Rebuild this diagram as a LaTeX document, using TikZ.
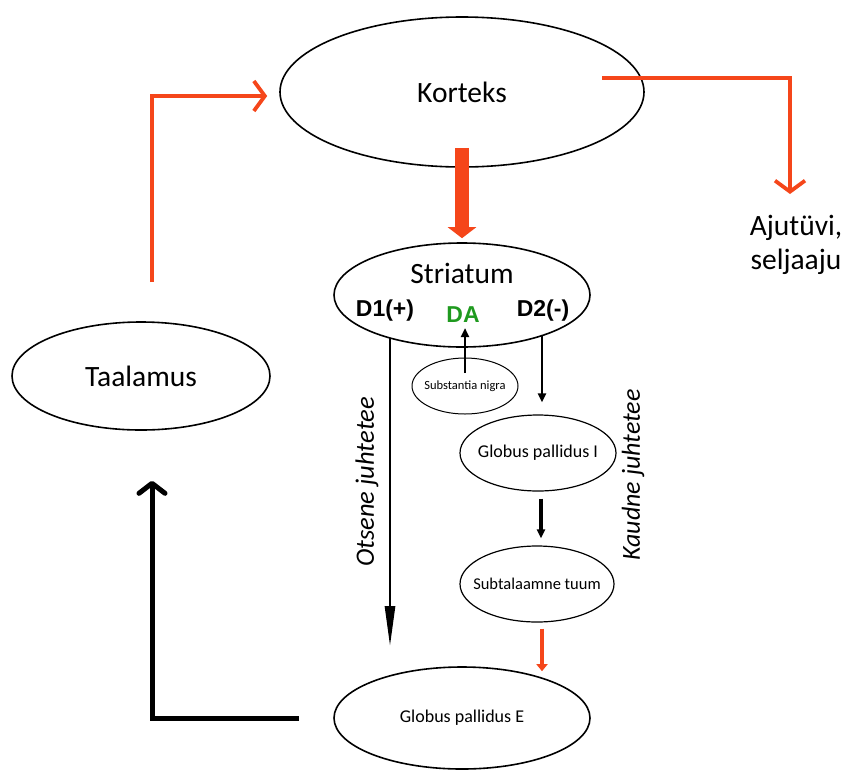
\documentclass[tikz,border=0pt]{standalone}
\usepackage{fontspec}
\setmainfont{Carlito}
\setsansfont{Liberation Sans}
\usetikzlibrary{shapes.geometric,arrows.meta,calc}
\definecolor{redor}{HTML}{F5461A}
\definecolor{dagreen}{HTML}{1F9A1F}
\begin{document}
\begin{tikzpicture}[x=1pt,y=-1pt,
  ell/.style={draw=black,ellipse,line width=1.6pt,inner sep=0pt},
  bigtxt/.style={font=\fontsize{29.5}{32}\selectfont},
  boldtxt/.style={font=\sffamily\bfseries\fontsize{23}{26}\selectfont},
  pathtxt/.style={font=\itshape\fontsize{26.5}{28}\selectfont,rotate=90},
  redconn/.style={draw=redor,line width=3.8pt,-{Straight Barb[length=11pt,width=30pt,line width=3.8pt]}},
  blkconn/.style={draw=black,line width=2.6pt,-{Triangle[length=9pt,width=8pt]}}
]
\useasboundingbox (0,0) rectangle (843,769);

% ellipses
\node[ell,minimum width=364pt,minimum height=150pt,
      label={[font=\fontsize{29.5}{32}\selectfont]center:Korteks}] (kort) at (462,92) {};
\node[ell,minimum width=256pt,minimum height=104pt] (str) at (462,295) {};
\node[ell,minimum width=258pt,minimum height=108pt,
      label={[font=\fontsize{29.5}{32}\selectfont]center:Taalamus}] (taal) at (141,376) {};
\node[ell,minimum width=106pt,minimum height=56pt,line width=1pt,
      label={[font=\fontsize{12.5}{14}\selectfont]center:Substantia nigra}] (sn) at (465,386) {};
\node[ell,minimum width=156pt,minimum height=76pt,line width=1.2pt,
      label={[font=\fontsize{18}{20}\selectfont]center:Globus pallidus I}] (gpi) at (538,453) {};
\node[ell,minimum width=154pt,minimum height=76pt,line width=1.2pt,
      label={[font=\fontsize{16.5}{19}\selectfont]center:Subtalaamne tuum}] (stn) at (537,584) {};
\node[ell,minimum width=256pt,minimum height=102pt,line width=1.6pt,
      label={[font=\fontsize{18}{20}\selectfont]center:Globus pallidus E}] (gpe) at (462,718) {};

% texts inside striatum
\node[bigtxt] (strtxt) at (462,273) {Striatum};
\node[boldtxt] (d1) at (385,311) {D1(+)};
\node[boldtxt,text=dagreen] (da) at (463,315) {DA};
\node[boldtxt] (d2) at (543,311) {D2(-)};

% side labels
\node[pathtxt] (otsene) at (367,482) {Otsene juhtetee};
\node[pathtxt,font=\itshape\fontsize{26}{28}\selectfont] (kaudne) at (633,475) {Kaudne juhtetee};
\node[bigtxt,align=center] (aju) at (796,245) {Ajutüvi,\\[2pt]seljaaju};

% coordinates
\coordinate (kb) at ($(kort.south)+(0,-20)$);
\coordinate (st) at ($(str.north)+(0,-4)$);
\coordinate (d1s) at ($(str.center)+(-72,43)$);
\coordinate (d1e) at ($(gpe.north)+(-72,-20)$);
\coordinate (d2s) at ($(str.center)+(80,40)$);
\coordinate (d2e) at ($(gpi.north)+(4,-12)$);
\coordinate (sns) at ($(sn.center)+(0,-13)$);
\coordinate (dae) at (465,328);
\coordinate (ts) at ($(taal.north)+(11,-39)$);
\coordinate (kw) at ($(kort.west)+(-12,4)$);
\coordinate (ks) at ($(kort.center)+(140,-14)$);
\coordinate (ae) at (790,194);
\coordinate (gpw) at ($(gpe.west)+(-34,0)$);
\coordinate (te) at ($(taal.south)+(11,50)$);

% Korteks -> Striatum block arrow
\draw[draw=redor,line width=14pt,-{Triangle[length=11pt,width=28pt]}] (kb) -- (st);

% Taalamus -> Korteks
\draw[redconn] (ts) |- (kw);
% Korteks -> Ajutuvi
\draw[redconn] (ks) -| (ae);

% direct pathway
\draw[draw=black,line width=2.6pt,-{Triangle[length=40pt,width=10pt]}] (d1s) -- (d1e);
% SN -> DA
\draw[blkconn,line width=2.6pt] (sns) -- (dae);
% D2 -> GPi
\draw[blkconn,line width=2.4pt] (d2s) -- (d2e);
% GPi -> STN
\draw[blkconn,line width=3.2pt] ($(gpi.south)+(3,7)$) -- ($(stn.north)+(4,-7)$);
% STN -> GPE
\draw[draw=redor,line width=3.6pt,-{Triangle[length=7pt,width=11pt]}] ($(stn.south)+(5,6)$) -- ($(gpe.north)+(80,5)$);

% GPE -> Taalamus
\draw[draw=black,line width=5pt,-{Straight Barb[length=10pt,width=26pt,line width=5pt,round]}] (gpw) -| (te);
\end{tikzpicture}
\end{document}
